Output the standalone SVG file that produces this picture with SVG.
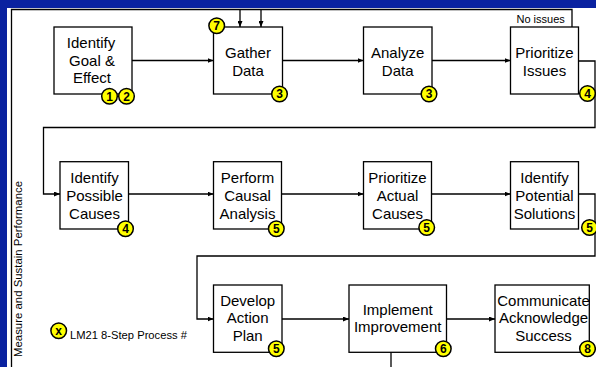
<svg xmlns="http://www.w3.org/2000/svg" width="596" height="367" viewBox="0 0 596 367">
<style>
.box{fill:#fff;stroke:#000;stroke-width:1.3}
.lbl{font-family:"Liberation Sans",Arial,sans-serif;font-size:15px;fill:#000;text-anchor:middle}
.conn{fill:none;stroke:#000;stroke-width:1.3}
.arr{fill:none;stroke:#000;stroke-width:1.3;marker-end:url(#ah)}
.bc{fill:#ffff00;stroke:#000;stroke-width:1.5}
.bt{font-family:"Liberation Sans",Arial,sans-serif;font-size:12px;font-weight:bold;fill:#000;text-anchor:middle}
.sm{font-family:"Liberation Sans",Arial,sans-serif;fill:#000}
</style>
<defs>
<marker id="ah" markerWidth="6" markerHeight="5" refX="6" refY="2.5" orient="auto" markerUnits="userSpaceOnUse">
<path d="M0,0 L6,2.5 L0,5 Z" fill="#000"/>
</marker>
</defs>
<rect x="0" y="0" width="596" height="367" fill="#0a22a0"/>
<rect x="7" y="8" width="589" height="359" fill="#fff"/>

<g id="connectors">
<path class="conn" d="M11.5,367 V9.5 H572 V27"/>
<path class="arr" d="M240,9.5 V27"/>
<path class="arr" d="M261,9.5 V27"/>
<path class="arr" d="M132,60.5 H213.5"/>
<path class="arr" d="M282.5,60.5 H363.5"/>
<path class="arr" d="M432,60.5 H510.5"/>
<path class="arr" d="M578.5,61 H595 V127.5 H43.5 V194 H60"/>
<path class="arr" d="M128.5,194 H213.5"/>
<path class="arr" d="M281.5,194 H363.5"/>
<path class="arr" d="M431.5,194 H510.5"/>
<path class="arr" d="M578.5,194 H595 V256 H197 V319 H213.5"/>
<path class="arr" d="M282,319 H349"/>
<path class="arr" d="M446.5,319 H495"/>
<path class="conn" d="M391,352 V367"/>
</g>

<text class="sm" font-size="11" x="516.5" y="22.5">No issues</text>
<text class="sm" font-size="11.4" transform="translate(21.7,357) rotate(-90)">Measure and Sustain Performance</text>

<g id="goal">
<rect class="box" x="54" y="27" width="78" height="67"/>
<text class="lbl" x="91" y="48.3">Identify</text>
<text class="lbl" x="92" y="66">Goal &amp;</text>
<text class="lbl" x="92" y="83.3">Effect</text>
<circle class="bc" cx="109.5" cy="96.2" r="7.8"/><text class="bt" x="109.5" y="100.5">1</text>
<circle class="bc" cx="126.5" cy="96.2" r="7.8"/><text class="bt" x="126.5" y="100.5">2</text>
</g>

<g id="gather">
<rect class="box" x="213.5" y="27" width="69" height="67"/>
<text class="lbl" x="248" y="58.3">Gather</text>
<text class="lbl" x="248" y="76">Data</text>
<circle class="bc" cx="216.7" cy="25.8" r="7.8"/><text class="bt" x="216.7" y="30">7</text>
<circle class="bc" cx="279.5" cy="94" r="7.8"/><text class="bt" x="279.5" y="98.3">3</text>
</g>

<g id="analyze">
<rect class="box" x="363.5" y="27" width="68.5" height="67"/>
<text class="lbl" x="397.7" y="58.3">Analyze</text>
<text class="lbl" x="397.7" y="76">Data</text>
<circle class="bc" cx="429" cy="94" r="7.8"/><text class="bt" x="429" y="98.3">3</text>
</g>

<g id="prioritize-issues">
<rect class="box" x="510.5" y="27" width="68" height="67"/>
<text class="lbl" x="544.5" y="58.3">Prioritize</text>
<text class="lbl" x="544.5" y="76">Issues</text>
<circle class="bc" cx="587.5" cy="93.5" r="7.8"/><text class="bt" x="587.5" y="97.8">4</text>
</g>

<g id="possible-causes">
<rect class="box" x="60" y="161.7" width="68.5" height="67.3"/>
<text class="lbl" x="94.5" y="183.3">Identify</text>
<text class="lbl" x="94.5" y="201">Possible</text>
<text class="lbl" x="94.5" y="219">Causes</text>
<circle class="bc" cx="125.5" cy="228.7" r="7.8"/><text class="bt" x="125.5" y="233">4</text>
</g>

<g id="causal-analysis">
<rect class="box" x="213.5" y="161.7" width="68" height="67.3"/>
<text class="lbl" x="247.5" y="183.3">Perform</text>
<text class="lbl" x="247.5" y="201">Causal</text>
<text class="lbl" x="247.5" y="219">Analysis</text>
<circle class="bc" cx="276.3" cy="228.7" r="7.8"/><text class="bt" x="276.3" y="233">5</text>
</g>

<g id="actual-causes">
<rect class="box" x="363.5" y="161.7" width="68" height="67.3"/>
<text class="lbl" x="397.5" y="183.3">Prioritize</text>
<text class="lbl" x="397.5" y="201">Actual</text>
<text class="lbl" x="397.5" y="219">Causes</text>
<circle class="bc" cx="426.7" cy="227.5" r="7.8"/><text class="bt" x="426.7" y="231.8">5</text>
</g>

<g id="potential-solutions">
<rect class="box" x="510.5" y="161.7" width="68" height="67.3"/>
<text class="lbl" x="544.5" y="183.3">Identify</text>
<text class="lbl" x="544.5" y="201">Potential</text>
<text class="lbl" x="544.5" y="219">Solutions</text>
<circle class="bc" cx="589.5" cy="227.5" r="7.8"/><text class="bt" x="589.5" y="231.8">5</text>
</g>

<g id="action-plan">
<rect class="box" x="213.5" y="285" width="68.5" height="67.3"/>
<text class="lbl" x="247.7" y="305.7">Develop</text>
<text class="lbl" x="247.7" y="323.3">Action</text>
<text class="lbl" x="247.7" y="341">Plan</text>
<circle class="bc" cx="276.3" cy="348.7" r="7.8"/><text class="bt" x="276.3" y="353">5</text>
</g>

<g id="implement">
<rect class="box" x="349" y="285" width="97.5" height="67.3"/>
<text class="lbl" x="397.7" y="315">Implement</text>
<text class="lbl" x="397.7" y="332.3">Improvement</text>
<circle class="bc" cx="443.3" cy="348.7" r="7.8"/><text class="bt" x="443.3" y="353">6</text>
</g>

<g id="communicate">
<rect class="box" x="495" y="285" width="94.3" height="67.3"/>
<text class="lbl" x="543.5" y="305.7">Communicate</text>
<text class="lbl" x="543.5" y="323.3">Acknowledge</text>
<text class="lbl" x="543.5" y="341">Success</text>
<circle class="bc" cx="587.5" cy="348.7" r="7.8"/><text class="bt" x="587.5" y="353">8</text>
</g>

<g id="legend">
<circle class="bc" cx="58.7" cy="330.7" r="7.8"/><text class="bt" x="58.7" y="334.8">x</text>
<text class="sm" font-size="11.2" x="70" y="338.5">LM21 8-Step Process #</text>
</g>
</svg>
